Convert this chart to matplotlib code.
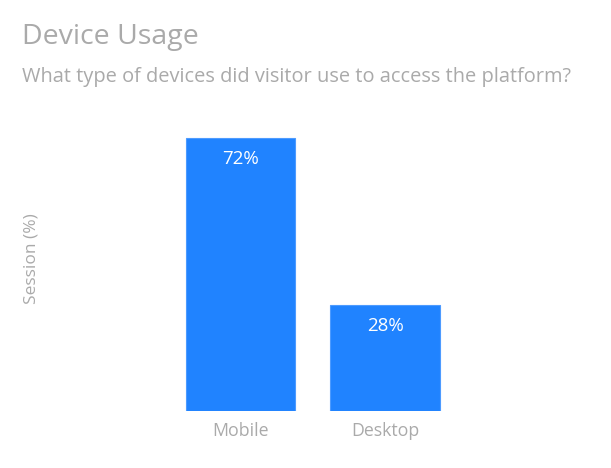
import matplotlib
matplotlib.use("Agg")
import matplotlib.pyplot as plt

# data
devices = ["Mobile", "Desktop"]
session_pct = [72, 28]
value_labels = ["72%", "28%"]

plt.rcParams['font.family'] = ['Open Sans', 'DejaVu Sans']

W, H = 611, 468
fig = plt.figure(figsize=(W / 100, H / 100), dpi=100)

# axes placed in pixel terms
L, R, B, T = 60, 590, 411.3, 107
ax = fig.add_axes([L / W, 1 - B / H, (R - L) / W, (B - T) / H])

bar_color = '#2083ff'
gray = '#aaaaaa'
x = list(range(len(devices)))
bars = ax.bar(x, session_pct, width=0.756, color=bar_color,
              edgecolor='#4d9bff', linewidth=0.8)

step = 144.5
c0 = 240.5
ax.set_xlim(-(c0 - L) / step, 1 + (R - (c0 + step)) / step)
ax.set_ylim(0, (B - T) / 3.796)

for b, lab in zip(bars, value_labels):
    ax.annotate(lab, (b.get_x() + b.get_width() / 2, b.get_height()),
                xytext=(0, -21), textcoords='offset pixels',
                ha='center', va='center', color='white', fontsize=13.5)

ax.set_xticks(x)
ax.set_xticklabels(devices, color=gray, fontsize=12.8)
ax.tick_params(axis='x', length=0, pad=8)
ax.set_yticks([])
for s in ax.spines.values():
    s.set_visible(False)

fig.text(31 / W, 1 - 259 / H, "Session (%)", rotation=90, ha='center',
         va='center', color=gray, fontsize=12.5)

fig.text(22 / W, 1 - 37 / H, "Device Usage", ha='left', va='center',
         color=gray, fontsize=20.5)
fig.text(22 / W, 1 - 77 / H,
         "What type of devices did visitor use to access the platform?",
         ha='left', va='center', color=gray, fontsize=14.4)

fig.savefig("out.png", dpi=100)
